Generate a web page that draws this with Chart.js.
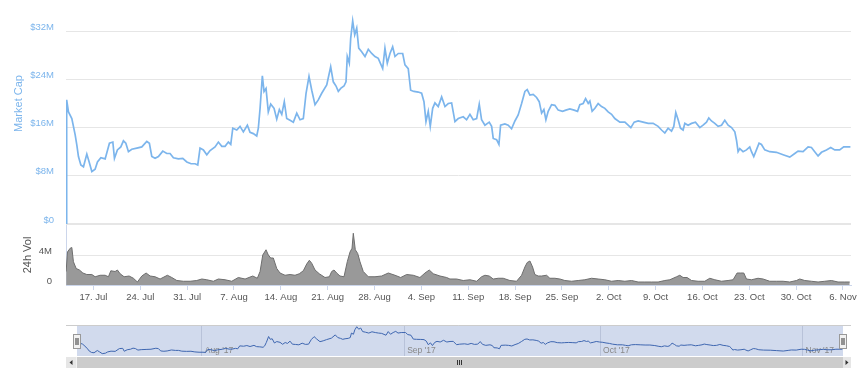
<!DOCTYPE html>
<html>
<head>
<meta charset="utf-8">
<title>Market Cap</title>
<script src="https://cdn.jsdelivr.net/npm/chart.js@4.4.1/dist/chart.umd.min.js"></script>
<style>
  html, body { margin: 0; padding: 0; background: #fff; }
  #wrap { position: relative; width: 868px; height: 383px; overflow: hidden; }
  canvas { position: absolute; left: 0; }
  #cap { top: -30px; }
  #vol { top: 219px; }
  #nav { top: 318px; }
</style>
</head>
<body>
<div id="wrap">
  <canvas id="cap" width="868" height="260"></canvas>
  <canvas id="vol" width="868" height="90"></canvas>
  <canvas id="nav" width="868" height="52"></canvas>
</div>
<script>
// days counted from 17 Jul 2017
const capDays = [
  -4.1, -4.0, -3.73, -3.23, -2.73, -2.48, -2.24, -1.88, -1.49, -0.99,
  -0.64, -0.24, 0.25, 0.60, 1.11, 1.75, 2.39, 2.90, 3.14, 3.58,
  4.09, 4.48, 4.84, 5.23, 5.73, 6.48, 7.23, 7.97, 8.36, 8.72,
  9.21, 9.71, 10.36, 10.96, 11.45, 11.95, 12.69, 13.35, 13.95, 14.59,
  15.19, 15.59, 15.93, 16.43, 16.94, 17.43, 18.17, 18.67, 19.18, 19.67,
  20.16, 20.52, 20.82, 21.42, 21.91, 22.40, 23.00, 23.40, 23.89, 24.40,
  24.64, 24.90, 25.24, 25.49, 25.79, 26.13, 26.49, 26.99, 27.39, 27.78,
  28.14, 28.52, 28.88, 29.38, 29.87, 30.38, 30.87, 31.36, 31.77, 32.21,
  32.62, 33.11, 33.60, 34.11, 34.86, 35.45, 35.84, 36.25, 36.59, 36.95,
  37.44, 37.74, 37.93, 38.23, 38.44, 38.74, 39.04, 39.34, 39.64, 40.08,
  40.58, 41.07, 41.58, 42.07, 42.56, 43.22, 43.56, 43.91, 44.31, 44.71,
  45.06, 45.55, 46.21, 46.55, 47.04, 47.40, 47.89, 48.54, 49.04, 49.39,
  49.69, 50.03, 50.33, 50.69, 51.03, 51.52, 52.03, 52.53, 53.02, 53.52,
  53.76, 54.02, 54.51, 55.26, 55.76, 56.26, 56.75, 57.26, 57.65, 58.00,
  58.50, 59.14, 59.50, 59.74, 60.24, 60.59, 60.84, 61.48, 61.98, 62.48,
  62.98, 63.47, 63.98, 64.47, 64.82, 65.22, 65.71, 66.22, 66.61, 66.97,
  67.31, 67.61, 67.95, 68.46, 68.95, 69.45, 70.10, 70.59, 71.19, 71.83,
  72.34, 72.68, 73.18, 73.54, 73.93, 74.18, 74.52, 74.93, 75.42, 75.93,
  76.42, 76.91, 77.42, 77.91, 78.66, 79.41, 79.90, 80.30, 80.80, 81.40,
  82.14, 82.89, 83.63, 84.38, 84.89, 85.38, 85.87, 86.38, 86.72, 87.02,
  87.37, 87.72, 88.11, 88.37, 88.86, 89.37, 89.96, 90.61, 91.10, 91.61,
  91.95, 92.35, 92.85, 93.34, 93.85, 94.34, 94.84, 95.35, 95.84, 96.09,
  96.33, 96.58, 97.07, 97.58, 98.07, 98.33, 98.67, 99.07, 99.46, 99.82,
  100.31, 101.06, 102.06, 103.05, 104.05, 104.80, 105.29, 106.04, 106.79, 107.29,
  107.78, 108.28, 108.79, 109.53, 110.17, 110.77, 111.51, 112.11, 112.60, 113.11
];
// market cap, $M
const capValues = [
  0, 20.6, 18.6, 17.5, 14.8, 13.1, 11.2, 9.8, 9.5, 11.6,
  10.3, 8.7, 9.1, 10.3, 11.0, 10.8, 13.4, 13.6, 10.9, 12.3,
  12.8, 13.8, 13.4, 12.0, 12.4, 12.6, 12.8, 13.7, 13.4, 11.2,
  10.9, 11.2, 12.1, 11.7, 11.7, 11.0, 10.8, 10.9, 10.3, 10.0,
  10.0, 9.8, 12.6, 12.3, 11.5, 12.2, 12.8, 13.6, 12.9, 12.9,
  13.6, 13.2, 15.9, 15.6, 16.2, 15.3, 16.4, 15.2, 15.0, 14.6,
  15.9, 19.2, 24.6, 22.0, 22.5, 18.6, 19.9, 19.2, 17.4, 19.0,
  18.2, 20.3, 17.5, 17.2, 16.9, 18.4, 17.3, 17.5, 21.7, 24.5,
  22.2, 19.8, 20.6, 21.7, 23.1, 26.1, 23.6, 22.9, 22.0, 22.5,
  22.9, 23.6, 27.8, 26.7, 30.8, 33.7, 31.4, 32.5, 29.2, 28.6,
  27.8, 29.0, 28.3, 27.8, 27.5, 25.8, 29.2, 26.7, 28.3, 29.4,
  27.8, 28.3, 28.3, 26.4, 25.8, 22.2, 22.0, 21.9, 21.7, 20.3,
  17.0, 18.7, 16.2, 19.2, 20.1, 19.5, 21.1, 19.5, 20.0, 20.1,
  18.6, 17.0, 17.5, 17.8, 17.3, 18.2, 17.3, 17.5, 19.9, 17.3,
  16.4, 16.9, 16.2, 14.2, 14.0, 13.2, 16.4, 16.6, 16.4, 15.8,
  17.1, 18.1, 20.0, 22.0, 22.3, 21.4, 21.5, 21.0, 20.3, 18.4,
  19.0, 17.3, 18.7, 19.8, 19.7, 18.9, 18.7, 18.9, 19.1, 18.9,
  18.7, 19.8, 20.0, 20.8, 20.0, 20.4, 18.7, 19.2, 20.0, 19.5,
  19.2, 18.6, 18.2, 17.5, 16.9, 16.9, 16.4, 16.0, 16.9, 17.1,
  16.9, 16.7, 16.7, 16.2, 15.6, 15.1, 15.9, 15.4, 16.2, 18.5,
  17.3, 15.9, 15.6, 16.7, 16.4, 16.7, 16.9, 16.0, 16.4, 16.9,
  17.6, 17.1, 16.7, 16.2, 16.4, 17.2, 16.4, 16.0, 15.3, 13.9,
  12.0, 12.5, 12.0, 12.3, 12.8, 12.0, 11.2, 12.3, 13.4, 13.2,
  12.3, 12.0, 11.9, 11.5, 11.1, 11.7, 12.1, 12.0, 12.8, 12.7,
  12.0, 11.3, 11.9, 12.3, 12.7, 12.3, 12.3, 12.8, 12.8, 12.8
];

const volDays = [
  -4.08, -3.88, -3.48, -3.23, -2.99, -2.58, -2.09, -1.58, -0.99, -0.24,
  0.25, 1.00, 1.75, 2.24, 2.60, 3.24, 3.58, 3.99, 4.58, 5.33,
  5.97, 6.57, 7.23, 7.87, 8.47, 9.21, 9.96, 11.05, 11.71, 12.46,
  13.44, 14.44, 15.44, 16.19, 16.94, 17.92, 18.67, 19.67, 20.67, 21.65,
  22.66, 23.81, 24.49, 24.90, 25.30, 25.79, 26.13, 26.49, 26.88, 27.39,
  27.88, 28.63, 29.38, 30.12, 30.76, 31.36, 31.87, 32.26, 32.62, 33.11,
  33.75, 34.60, 35.25, 35.60, 35.95, 36.35, 36.84, 37.44, 37.93, 38.34,
  38.64, 38.83, 39.13, 39.49, 39.83, 40.32, 41.07, 42.07, 43.07, 44.06,
  45.06, 45.91, 46.80, 47.79, 48.79, 49.54, 50.18, 50.78, 51.78, 52.78,
  53.27, 54.27, 55.26, 56.26, 57.26, 58.00, 58.50, 59.14, 59.74, 60.48,
  61.23, 62.23, 63.23, 63.98, 64.47, 64.82, 65.22, 65.62, 65.96, 66.46,
  66.97, 67.71, 68.20, 68.95, 69.70, 70.44, 71.45, 72.43, 73.43, 74.43,
  75.42, 76.42, 77.42, 78.41, 79.41, 80.41, 81.39, 82.39, 83.39, 84.38,
  85.38, 86.13, 87.13, 87.62, 88.11, 88.71, 89.37, 90.35, 91.35, 92.10,
  92.85, 93.85, 94.83, 95.58, 96.18, 96.68, 97.18, 97.58, 98.33, 99.31,
  100.06, 101.06, 102.06, 103.05, 104.05, 105.05, 105.54, 106.29, 107.29, 108.28,
  109.28, 110.28, 111.26, 112.26, 113.01
];
// 24h volume, $M
const volValues = [
  1.8, 4.4, 4.9, 5.0, 3.1, 2.2, 2.0, 1.6, 1.4, 1.4,
  1.1, 1.3, 1.3, 1.1, 1.9, 1.8, 2.0, 1.5, 1.1, 1.2,
  0.9, 0.4, 1.2, 1.6, 1.2, 1.1, 0.8, 1.3, 1.0, 0.6,
  0.5, 0.5, 0.6, 0.8, 0.7, 0.5, 0.8, 0.7, 0.5, 1.0,
  0.8, 1.2, 0.9, 1.8, 4.0, 4.7, 4.0, 3.6, 3.6, 2.2,
  1.6, 1.3, 1.4, 1.3, 1.5, 1.9, 2.8, 3.3, 2.9, 2.0,
  1.5, 1.0, 1.1, 1.8, 2.0, 1.6, 1.2, 1.1, 3.1, 4.4,
  4.9, 6.9, 4.7, 4.2, 3.1, 1.8, 1.1, 1.1, 1.2, 1.6,
  1.3, 1.0, 1.4, 1.3, 1.0, 1.6, 2.0, 1.5, 1.2, 1.0,
  0.8, 0.8, 0.6, 0.7, 0.5, 1.1, 1.3, 1.2, 0.8, 0.9,
  0.9, 0.6, 0.5, 1.3, 2.4, 3.0, 3.2, 2.4, 1.4, 1.2,
  1.2, 1.3, 0.9, 0.9, 0.8, 0.6, 0.5, 0.6, 0.7, 0.9,
  0.8, 0.7, 0.5, 0.6, 0.5, 0.6, 0.4, 0.4, 0.4, 0.4,
  0.6, 0.7, 1.1, 1.3, 1.0, 1.0, 0.6, 0.5, 0.5, 0.9,
  0.7, 0.5, 0.6, 0.7, 1.6, 1.6, 1.6, 0.8, 0.7, 0.9,
  0.8, 0.5, 0.5, 0.5, 0.4, 0.6, 0.8, 0.6, 0.5, 0.4,
  0.5, 0.6, 0.4, 0.4, 0.4
];

const weekDays = [0, 7, 14, 21, 28, 35, 42, 49, 56, 63, 70, 77, 84, 91, 98, 105, 112];
const weekLabels = ['17. Jul', '24. Jul', '31. Jul', '7. Aug', '14. Aug', '21. Aug', '28. Aug',
  '4. Sep', '11. Sep', '18. Sep', '25. Sep', '2. Oct', '9. Oct', '16. Oct', '23. Oct', '30. Oct', '6. Nov'];
const monthDays = [15, 46, 76, 107];
const monthLabels = ["Aug '17", "Sep '17", "Oct '17", "Nov '17"];
const capTicks = [0, 8, 16, 24, 32, 40];
const volTicks = [0, 4];

const viewMin = -4.1;
const viewMax = 113.2;

Chart.defaults.font.family = "'Liberation Sans', Arial, sans-serif";
Chart.defaults.animation = false;
Chart.defaults.events = [];
Chart.defaults.plugins.legend.display = false;
Chart.defaults.plugins.tooltip.enabled = false;

function points(days, values) {
  return days.map((d, i) => ({ x: d, y: values[i] }));
}

new Chart(document.getElementById('cap'), {
  type: 'line',
  data: {
    datasets: [{
      data: points(capDays, capValues),
      borderColor: '#7cb5ec',
      borderWidth: 1.7,
      pointRadius: 0,
      tension: 0
    }]
  },
  options: {
    responsive: false,
    layout: { padding: { left: 0, right: 17, top: 13, bottom: 6 } },
    scales: {
      x: { type: 'linear', min: viewMin, max: viewMax, display: false },
      y: {
        min: 0, max: 40,
        afterBuildTicks: axis => { axis.ticks = capTicks.map(v => ({ value: v })); },
        afterFit: axis => { axis.width = 66; },
        border: { display: false },
        grid: {
          color: '#e6e6e6',
          lineWidth: c => (c.tick && c.tick.value === 0 ? 2 : 1),
          drawTicks: true, tickLength: 12, tickColor: 'rgba(0,0,0,0)'
        },
        ticks: {
          color: '#7cb5ec', padding: 0, labelOffset: -4, font: { size: 9.5 },
          callback: v => (v === 0 ? '$0' : '$' + v + 'M')
        },
        title: { display: true, text: 'Market Cap', color: '#7cb5ec', font: { size: 11 }, padding: { top: 12.4, bottom: 0 } }
      }
    }
  }
});

new Chart(document.getElementById('vol'), {
  type: 'line',
  data: {
    datasets: [{
      data: points(volDays, volValues),
      borderColor: '#6e6e6e',
      backgroundColor: '#999999',
      borderWidth: 1,
      fill: 'origin',
      pointRadius: 0,
      tension: 0
    }]
  },
  options: {
    responsive: false,
    layout: { padding: { left: 0, right: 17, top: 6, bottom: 0 } },
    scales: {
      x: {
        type: 'linear', min: viewMin, max: viewMax,
        afterBuildTicks: axis => { axis.ticks = weekDays.map(v => ({ value: v })); },
        afterFit: axis => { axis.height = 24; },
        border: { color: '#ccd6eb' },
        grid: { drawOnChartArea: false, drawTicks: true, tickLength: 5, color: '#ccd6eb' },
        ticks: {
          color: '#555', padding: 2, maxRotation: 0, autoSkip: false, font: { size: 9.5 },
          callback: (v, i) => weekLabels[i]
        }
      },
      y: {
        min: 0, max: 8,
        afterBuildTicks: axis => { axis.ticks = volTicks.map(v => ({ value: v })); },
        afterFit: axis => { axis.width = 66; },
        border: { display: true, color: '#ccd6eb' },
        grid: {
          color: c => (c.tick && c.tick.value === 4 ? '#e6e6e6' : 'rgba(0,0,0,0)'),
          drawTicks: true, tickLength: 14, tickColor: 'rgba(0,0,0,0)'
        },
        ticks: {
          color: '#555', padding: 0, labelOffset: -4, font: { size: 9.5 },
          callback: v => (v === 0 ? '0' : v + 'M')
        },
        title: { display: true, text: '24h Vol', color: '#555', font: { size: 11 }, padding: { top: 21, bottom: 0 } }
      }
    }
  }
});

// navigator mask, month labels, handles and scrollbar
const navigatorDecor = {
  id: 'navigatorDecor',
  beforeDatasetsDraw(chart) {
    const { ctx, chartArea: a, scales: { x } } = chart;
    const x1 = x.getPixelForValue(viewMin);
    const x2 = x.getPixelForValue(viewMax);
    ctx.save();
    ctx.fillStyle = 'rgba(102,133,194,0.3)';
    ctx.fillRect(x1, a.top, x2 - x1, a.bottom - a.top);
    ctx.strokeStyle = '#cccccc';
    ctx.lineWidth = 1;
    ctx.beginPath();
    ctx.moveTo(66, a.top + 0.5);
    ctx.lineTo(851, a.top + 0.5);
    ctx.stroke();
    ctx.fillStyle = '#888888';
    ctx.font = "8.5px 'Liberation Sans', Arial, sans-serif";
    ctx.textBaseline = 'alphabetic';
    ctx.textAlign = 'left';
    monthDays.forEach((d, i) => {
      ctx.fillText(monthLabels[i], x.getPixelForValue(d) + 3, a.bottom - 3);
    });
    ctx.restore();
  },
  afterDatasetsDraw(chart) {
    const { ctx, scales: { x } } = chart;
    const x1 = Math.round(x.getPixelForValue(viewMin));
    const x2 = Math.round(x.getPixelForValue(viewMax));
    ctx.save();
    // handles
    [x1, x2].forEach(hx => {
      ctx.fillStyle = '#f2f2f2';
      ctx.strokeStyle = '#999999';
      ctx.lineWidth = 1;
      ctx.fillRect(hx - 3.5, 16.5, 7, 14);
      ctx.strokeRect(hx - 3.5, 16.5, 7, 14);
      ctx.beginPath();
      ctx.moveTo(hx - 1, 20); ctx.lineTo(hx - 1, 27);
      ctx.moveTo(hx + 1, 20); ctx.lineTo(hx + 1, 27);
      ctx.strokeStyle = '#333333';
      ctx.stroke();
    });
    // scrollbar
    const top = 39, h = 11;
    ctx.fillStyle = '#f2f2f2';
    ctx.fillRect(66, top, 785, h);
    ctx.fillStyle = '#cccccc';
    ctx.fillRect(x1, top, x2 - x1, h);
    ctx.fillStyle = '#e6e6e6';
    ctx.fillRect(66, top, 10, h);
    ctx.fillRect(843, top, 8, h);
    ctx.fillStyle = '#333333';
    ctx.beginPath();
    ctx.moveTo(69.5, top + h / 2); ctx.lineTo(72.5, top + 3); ctx.lineTo(72.5, top + h - 3); ctx.closePath();
    ctx.moveTo(848.5, top + h / 2); ctx.lineTo(845.5, top + 3); ctx.lineTo(845.5, top + h - 3); ctx.closePath();
    ctx.fill();
    const mid = Math.round((x1 + x2) / 2);
    ctx.strokeStyle = '#333333';
    ctx.beginPath();
    [-2.5, -0.5, 1.5].forEach(o => { ctx.moveTo(mid + o, top + 3); ctx.lineTo(mid + o, top + h - 3); });
    ctx.stroke();
    ctx.restore();
  }
};

new Chart(document.getElementById('nav'), {
  type: 'line',
  data: {
    datasets: [{
      data: points(capDays.slice(1), capValues.slice(1)),
      borderColor: '#3e66b0',
      borderWidth: 1,
      pointRadius: 0,
      tension: 0
    }]
  },
  options: {
    responsive: false,
    layout: { padding: { left: 77, right: 25, top: 7, bottom: 14 } },
    scales: {
      x: {
        type: 'linear', min: viewMin, max: viewMax,
        afterBuildTicks: axis => { axis.ticks = monthDays.map(v => ({ value: v })); },
        afterFit: axis => { axis.height = 0; },
        border: { display: false },
        grid: { drawOnChartArea: true, drawTicks: false, color: 'rgba(110,120,140,0.25)' },
        ticks: { display: false }
      },
      y: { min: 6.5, max: 35.3, display: false }
    }
  },
  plugins: [navigatorDecor]
});
</script>
</body>
</html>
